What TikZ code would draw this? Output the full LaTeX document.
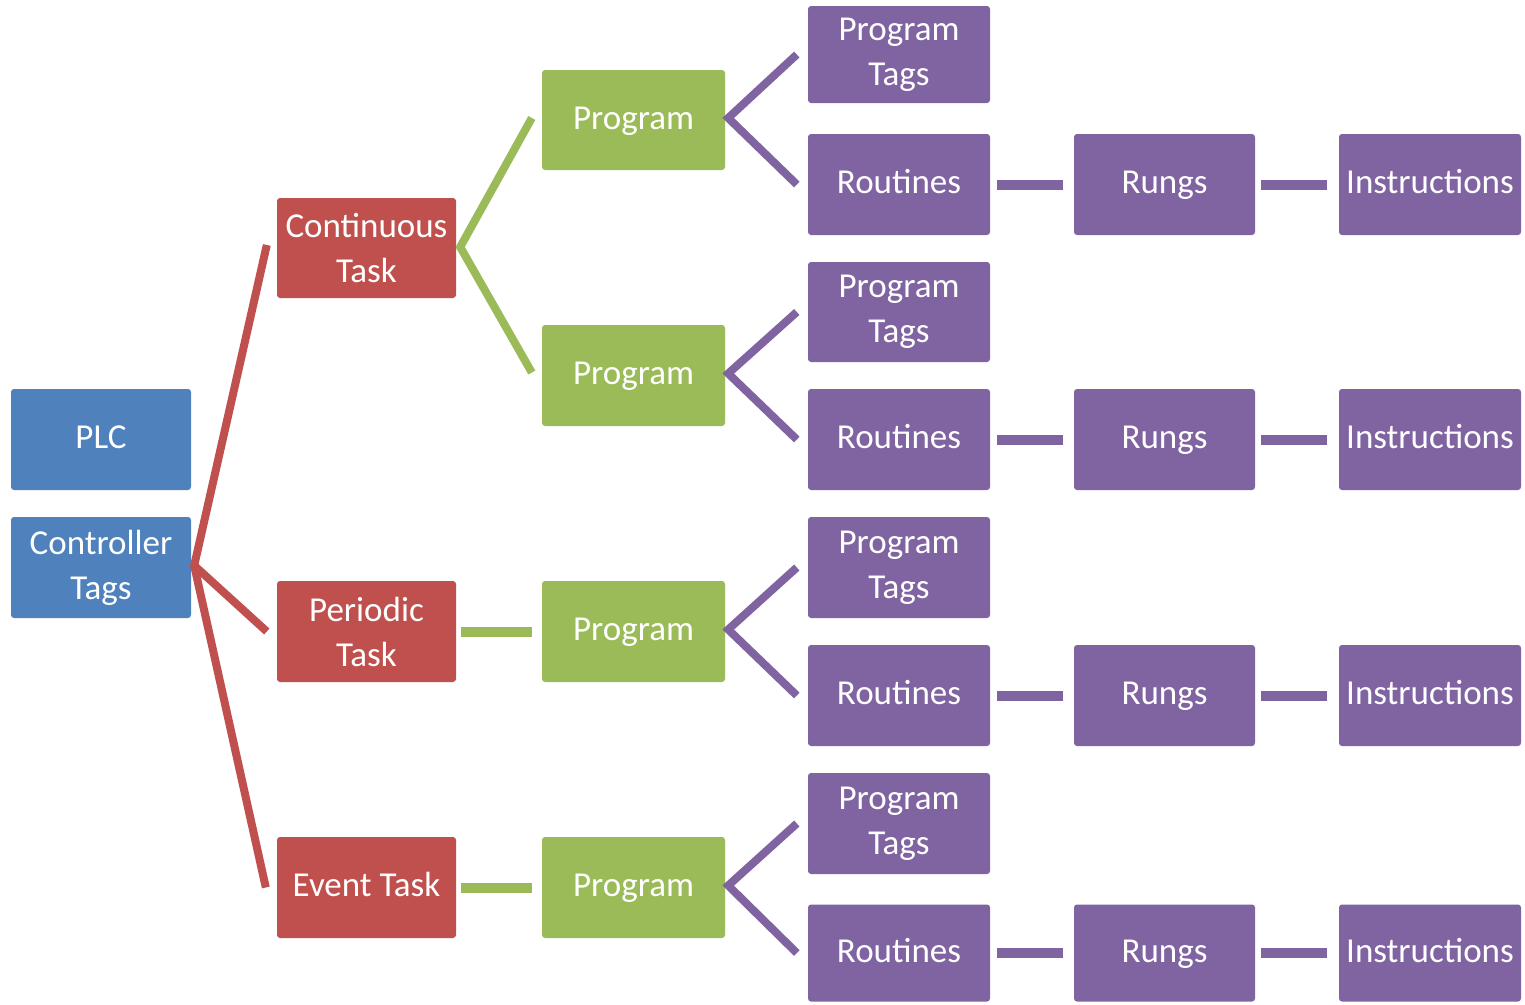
\documentclass[tikz,border=0pt]{standalone}
\usepackage{fontspec}
\setmainfont{Carlito}
\usetikzlibrary{calc}
\definecolor{plcblue}{HTML}{4F81BD}
\definecolor{taskred}{HTML}{C0504D}
\definecolor{proggreen}{HTML}{9BBB59}
\definecolor{partpurple}{HTML}{8064A2}
\tikzset{
  box/.style={rectangle, rounded corners=3pt, inner sep=0pt, text=white, align=center,
    font=\fontsize{35}{45}\selectfont},
  oneline/.style={text height=26pt, text depth=8pt},
  plcbox/.style={box, fill=plcblue, minimum width=180pt, minimum height=101pt},
  taskbox/.style={box, fill=taskred, minimum width=179pt, minimum height=101pt},
  progbox/.style={box, oneline, fill=proggreen, minimum width=183pt, minimum height=101pt},
  partbox/.style={box, fill=partpurple, minimum width=182pt, minimum height=101pt},
  link/.style={line width=8pt, line cap=butt, line join=miter},
  stub/.style={line width=10pt, line cap=butt},
}
\begin{document}
\begin{tikzpicture}[x=1pt,y=-1pt]
\useasboundingbox (0,0) rectangle (1525,1004);

% controller level
\node[plcbox, oneline] (plc) at (101,439.5) {PLC};
\node[plcbox] (ctags) at (101,567.5) {Controller\\Tags};

% tasks
\node[taskbox, minimum height=100pt] (cont) at (366.5,248) {Continuous\\Task};
\node[taskbox] (peri) at (366.5,631.5) {Periodic\\Task};
\node[taskbox, oneline] (event) at (366.5,887.5) {Event Task};

% programs
\node[progbox, minimum height=100pt] (prA) at (633.5,120) {Program};
\node[progbox] (prB) at (633.5,375.5) {Program};
\node[progbox] (prC) at (633.5,631.5) {Program};
\node[progbox] (prD) at (633.5,887.5) {Program};

% program tags and routines
\node[partbox, minimum height=97pt] (tgA) at (899,54.5) {Program\\Tags};
\node[partbox, oneline] (rtA) at (899,184.5) {Routines};
\node[partbox, minimum height=100pt] (tgB) at (899,312) {Program\\Tags};
\node[partbox, oneline] (rtB) at (899,439.5) {Routines};
\node[partbox] (tgC) at (899,567.5) {Program\\Tags};
\node[partbox, oneline] (rtC) at (899,695.5) {Routines};
\node[partbox] (tgD) at (899,823.5) {Program\\Tags};
\node[partbox, oneline, minimum height=97pt] (rtD) at (899,953) {Routines};

% rungs and instructions
\foreach \r/\y/\h in {A/184.5/101,B/439.5/101,C/695.5/101,D/953/97}{
  \node[partbox, oneline, minimum width=181pt, minimum height=\h pt] (rg\r) at (1164.5,\y) {Rungs};
  \node[partbox, oneline, minimum height=\h pt] (in\r) at (1430,\y) {Instructions};
}

% red connectors: controller tags to tasks
\coordinate (hubR) at ($(ctags.east)+(3,-2)$);
\draw[link, taskred] ($(cont.west)+(-10,-3)$) -- (hubR) -- ($(peri.west)+(-10,0)$);
\draw[link, taskred] (hubR) -- ($(event.west)+(-11,0)$);

% green connectors: tasks to programs
\coordinate (hubG) at ($(cont.east)+(4,-1)$);
\draw[link, proggreen] ($(prA.west)+(-10,-2)$) -- (hubG) -- ($(prB.west)+(-10,-3)$);
\draw[stub, proggreen] ($(peri.east)+(5,0)$) -- ($(prC.west)+(-10,0)$);
\draw[stub, proggreen] ($(event.east)+(5,0)$) -- ($(prD.west)+(-10,0)$);

% purple connectors: programs to tags and routines
\foreach \p in {A,B,C,D}{
  \coordinate (hub\p) at ($(pr\p.east)+(3,-2)$);
  \draw[link, partpurple] ($(tg\p.west)+(-11,0)$) -- (hub\p) -- ($(rt\p.west)+(-11,0)$);
  \draw[stub, partpurple] ($(rt\p.east)+(7,0)$) -- ($(rg\p.west)+(-11,0)$);
  \draw[stub, partpurple] ($(rg\p.east)+(6,0)$) -- ($(in\p.west)+(-12,0)$);
}
\end{tikzpicture}
\end{document}
